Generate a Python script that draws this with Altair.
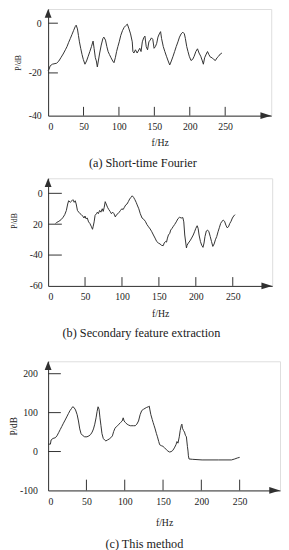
import altair as alt
import pandas as pd

# ---------------- data ----------------
A_f = [0, 1.4, 2.8, 6, 12, 15.2, 18.4, 21.2, 24.4, 26.7,
       29, 31.3, 33.6, 35.9, 38.2, 39.6, 41.4, 42.8, 44.2, 46,
       47.9, 49.7, 52, 54.3, 56.6, 58.9, 61.2, 63.5, 64.9, 66.7,
       68.1, 69.5, 70.9, 72.8, 75, 77.3, 78.7, 81, 82.9, 84.7,
       86.6, 88.8, 91.2, 93, 94.9, 96.7, 98.5, 100.4, 102.6, 105,
       107.3, 109.5, 111.9, 114.2, 116.4, 118.8, 119.7, 121.1, 123.3, 125.7,
       129.4, 131.2, 133, 134.9, 136.7, 138.5, 140.4, 142.3, 144.1, 145.9,
       147.8, 149.6, 151.5, 153.3, 155.1, 157, 158.8, 160.2, 162.6, 164.8,
       167.1, 169.5, 171.7, 174, 176.4, 178.6, 180.9, 183.3, 185.5, 187.8,
       190.2, 192.4, 193.8, 195.7, 197.5, 199.3, 201.7, 204, 206.2, 208.6,
       210.9, 213.1, 215.5, 217.8, 219.2, 221, 223.3, 225.1, 226.9, 229.3,
       231.6, 233.8, 236.2, 238.5, 240.7, 243.1, 245.4]
A_v = [-19, -18.5, -17.2, -16.5, -16.1, -15.2, -13.7, -12.4, -10.7, -9.4,
       -7.7, -6.2, -4.6, -3.0, -1.4, -0.8, -2.3, -4.9, -7.5, -10.1,
       -12.6, -14.6, -16.5, -15.2, -13.3, -11.4, -9.4, -7.2, -10.1, -13.9,
       -15.2, -17.6, -15.2, -12, -8.8, -6.2, -5.6, -6.8, -9.4, -11.4,
       -12.6, -13.9, -15.2, -15.9, -13.9, -11.4, -9.4, -7.5, -4.9, -3,
       -1.7, -1, -0.4, -2.3, -4.3, -7.5, -11.4, -12, -10.7, -12,
       -10.1, -11.4, -7.5, -5.9, -5.2, -9.4, -10.7, -7.5, -6.8, -5.9,
       -6.5, -10.1, -9.4, -8.1, -5.6, -4.3, -3.4, -6.2, -9.4, -11.4,
       -13.3, -15.2, -16.8, -15.2, -13.3, -11.4, -9.4, -7.5, -5.6, -4.3,
       -3.6, -4.3, -6.2, -9.4, -11.4, -13.3, -15, -14.6, -13.3, -11.4,
       -10.3, -12, -13.3, -15.2, -16.5, -13.9, -12.4, -11.4, -12.6, -13.7,
       -13.9, -14.6, -15, -13.9, -13.3, -12.4, -12]

B_f = [10, 11.5, 14.6, 17.7, 20.3, 22.5, 24.7, 26.5, 27.8, 30,
       32.2, 33.6, 35.3, 36.7, 38, 39.7, 41.5, 43.3, 45, 46.8,
       48.6, 49.9, 51.2, 53, 54.8, 56.5, 58.7, 60.1, 60.9, 62.3,
       63.6, 65.4, 66.7, 68, 69.8, 71.5, 73.3, 74.6, 76, 77.3,
       78.6, 80.4, 82.1, 83.9, 85.7, 87.4, 89.2, 91, 92.7, 94.5,
       96.3, 98, 99.8, 101.6, 103.3, 105.1, 106.9, 108.6, 110.4, 112.2,
       113.9, 115.7, 117.5, 119.2, 120.6, 122.8, 124.8, 127.2, 129.4, 131.6,
       133.8, 136, 138.2, 140.4, 142.6, 144.8, 147, 149.3, 151.5, 153.7,
       155.9, 157.2, 159, 160.3, 161.6, 162.9, 164.7, 166, 167.8, 169.1,
       171.3, 173.5, 175.8, 178, 180.2, 182.4, 183.7, 185, 186.4, 187.3,
       188.1, 189.9, 192.1, 194.3, 196.5, 198.3, 200, 201.8, 203.1, 204.4,
       206.2, 208, 209.7, 211.1, 212.4, 214.2, 215.9, 217.7, 219.5, 221.2,
       223, 224.8, 226.5, 228.3, 230.1, 231.8, 233.6, 235.4, 237.1, 238.9,
       240.7, 242.4, 244.2, 246, 247.7, 249.5, 251.3, 253]
B_v = [-19.5, -18.9, -18.1, -17, -15.5, -13.8, -11.1, -6.9, -4.8, -5.8,
       -4.8, -4.1, -5.8, -4.8, -6.9, -11.1, -12.2, -13.2, -13.8, -14.7,
       -16, -14.7, -16.4, -16, -18.5, -19.5, -21.7, -23.3, -21.7, -18.5,
       -14.3, -13.2, -12.2, -13.2, -11.1, -12.2, -10, -11.7, -9, -5.4,
       -6.9, -9, -10.5, -11.7, -13.2, -12.2, -13.2, -15.3, -13.8, -13.2,
       -12.2, -11.1, -10, -10.5, -9, -7.5, -6.9, -5.4, -3.7, -2.6,
       -1.6, -2.6, -4.1, -5.8, -7.5, -10, -13.2, -16, -16.8, -18.1,
       -20.2, -21.7, -23.1, -24.9, -27, -29, -31.2, -32.2, -32.8, -33.7,
       -33.9, -32.2, -31.2, -31.6, -29, -27, -25.9, -23.8, -22.7, -21.7,
       -20.2, -18.5, -16.4, -15.5, -16, -15.7, -18.5, -27, -32.2, -35.4,
       -33.7, -32.2, -30.8, -29, -27, -24.9, -22.7, -21, -22.7, -27,
       -31.2, -33.7, -35, -32.2, -28, -24.4, -23.8, -24.9, -28, -31.2,
       -34.4, -32.8, -30.1, -28, -24.9, -22.3, -19.5, -18.1, -17.4, -18.1,
       -20.6, -22.3, -21.7, -19.5, -18.1, -16, -14.7, -13.8]

C_f = [0, 3, 3.9, 6.4, 9.4, 11.5, 13.7, 15.8, 17.9, 20,
       22.2, 24.3, 26.4, 28.6, 30.7, 32, 33.7, 35.8, 37.9, 39.6,
       41.3, 43, 44.7, 47.7, 50.7, 53.3, 55.4, 57.5, 59.2, 60.9,
       62.6, 63.9, 65.2, 66.5, 67.7, 69, 70.3, 72, 73.7, 75.4,
       77.5, 79.7, 81.8, 83.9, 85.6, 87.3, 89, 90.7, 92.4, 94.5,
       96.7, 98, 99.2, 100.9, 103.1, 105.2, 107.3, 109.4, 111.6, 113.7,
       115.8, 118, 120.1, 122.2, 124.4, 126.5, 128.6, 130.8, 132, 132.9,
       134.1, 135.9, 137.1, 138.4, 139.7, 141.4, 142.7, 144.4, 145.6, 147.8,
       149.9, 152, 154.2, 156.3, 158.4, 160.5, 162.7, 164.8, 166.9, 168.2,
       169.5, 171.2, 172.4, 173.7, 174.6, 175.4, 176.7, 178, 179.2, 180.5,
       181.8, 182.6, 183.1, 183.9, 188.2, 201, 222.2, 239.3, 243.6, 247,
       250]
C_v = [19, 19, 29.7, 33.7, 35.4, 40.2, 48.4, 56.5, 64.6, 72.8,
       80.9, 89, 97.2, 105.3, 111, 115, 113.4, 106.9, 94.7, 78.5,
       58.1, 45.9, 41.9, 37.8, 37.8, 40.2, 43.5, 50, 58.1, 70.3,
       86.6, 102.8, 115, 108.5, 86.6, 66.3, 45.9, 33.7, 29.7, 27.2,
       29.7, 32.1, 35.4, 40.2, 51.6, 59.8, 63.8, 66.3, 70.3, 74.4,
       78.5, 86.6, 78.5, 74.4, 70.3, 67.9, 66.3, 66.3, 66.3, 66.3,
       70.3, 78.5, 94.7, 105.3, 108.5, 111, 113.4, 115, 116.7, 106.9,
       94.7, 82.5, 74.4, 66.3, 58.1, 45.9, 37.8, 25.6, 17.5, 15,
       13.4, 9.3, 5.3, 1.2, -1.2, -0.4, 2.8, 9.3, 17.5, 25.6,
       21.5, 37.8, 54.1, 66.3, 70.3, 59.8, 54.1, 50, 41.9, 37.8,
       13.4, 1.2, -11, -19.1, -20, -21.6, -21.6, -21.6, -19.1, -16.6,
       -15]

X_LABELS = [0, 50, 100, 150, 200, 250]
X_TICKS = [50, 100, 150, 200, 250]
A_YLABELS = [0, -20, -40]
A_YTICKS = [0, -20]
B_YLABELS = [0, -20, -40, -60]
B_YTICKS = [0, -20, -40]
C_YLABELS = [200, 100, 0, -100]
C_YTICKS = [200, 100, 0]

CAPTIONS = ["(a) Short-time Fourier", "(b) Secondary feature extraction", "(c) This method"]

# ---------------- style ----------------
FONT = "Liberation Serif"
INK = "#303030"
TXT = "#1a1a1a"
UP = "M0,0L-0.35,0.9L0.35,0.9Z"
RIGHT = "M0,0L-1.1,-0.35L-1.1,0.35Z"


def panel(f, v, W, H, xdom, yscale, ylabels, yticks, caption,
          ylen, xlen, ylabpad, ytitle_size, ytitle_pad, xlabpad, xtitle_pad, cap_offset,
          label_expr="toString(datum.value)", ytitle_y=None, subtitle=None):
    xscale = alt.Scale(domain=xdom, nice=False, zero=False)
    x_enc = alt.X("f:Q", scale=xscale,
                  axis=alt.Axis(values=X_LABELS, ticks=False, grid=False, domainColor=INK,
                                labelFont=FONT, labelFontSize=10, labelColor=TXT,
                                labelPadding=xlabpad,
                                labelExpr="toString(datum.value)",
                                title="f/Hz", titleFont=FONT, titleFontSize=10,
                                titleFontWeight="normal", titleColor=TXT, titlePadding=xtitle_pad))
    yax = dict(values=ylabels, ticks=False, grid=False, domainColor=INK,
               labelFont=FONT, labelFontSize=10, labelColor=TXT, labelPadding=ylabpad,
               labelExpr=label_expr,
               title="P/dB", titleFont=FONT, titleFontSize=ytitle_size,
               titleFontWeight="normal", titleColor=TXT, titlePadding=ytitle_pad)
    if ytitle_y is not None:
        yax["titleY"] = ytitle_y
    y_enc = alt.Y("v:Q", scale=yscale, axis=alt.Axis(**yax))

    line = alt.Chart(pd.DataFrame({"f": f, "v": v})).mark_line(
        color=INK, strokeWidth=1).encode(x=x_enc, y=y_enc)
    xt = alt.Chart(pd.DataFrame({"f": X_TICKS})).mark_rule(color=INK, strokeWidth=1).encode(
        x=x_enc, y=alt.value(H), y2=alt.value(H - xlen))
    yt = alt.Chart(pd.DataFrame({"v": yticks})).mark_rule(color=INK, strokeWidth=1).encode(
        y=y_enc, x=alt.value(0), x2=alt.value(ylen))
    one = pd.DataFrame({"k": [0]})
    up = alt.Chart(one).mark_point(shape=UP, filled=True, size=400, color=INK,
                                   opacity=1, strokeWidth=0).encode(
        x=alt.value(0), y=alt.value(0))
    right = alt.Chart(one).mark_point(shape=RIGHT, filled=True, size=400, color=INK,
                                      opacity=1, strokeWidth=0).encode(
        x=alt.value(W), y=alt.value(H))
    tkw = dict(orient="bottom", anchor="middle", frame="bounds", font=FONT, fontSize=12.5,
               fontWeight="normal", color=TXT, offset=cap_offset)
    if subtitle is not None:
        tkw.update(subtitle=subtitle[0], subtitleFontSize=subtitle[1], subtitlePadding=0)
    return alt.layer(line, xt, yt, up, right).properties(
        width=W, height=H, title=alt.TitleParams(caption, **tkw))


pa = panel(A_f, A_v, 228, 109, [0, 315],
           alt.Scale(domain=[-40, -20, 0, 6], range=[109, 65.3, 14.5, 0], nice=False, zero=False),
           A_YLABELS, A_YTICKS, CAPTIONS[0],
           ylen=10, xlen=9, ylabpad=7, ytitle_size=8, ytitle_pad=6,
           xlabpad=6, xtitle_pad=7, cap_offset=9)

pb = panel(B_f, B_v, 229, 110, [0, 303.4],
           alt.Scale(domain=[-60, 9.75], nice=False, zero=False),
           B_YLABELS, B_YTICKS, CAPTIONS[1],
           ylen=14, xlen=9, ylabpad=6, ytitle_size=8, ytitle_pad=11,
           xlabpad=6, xtitle_pad=7, cap_offset=9,
           label_expr="datum.value == -20 ? '20' : toString(datum.value)",
           ytitle_y=43, subtitle=(" ", 13))

pc = panel(C_f, C_v, 237, 132, [0, 302.7],
           alt.Scale(domain=[-100, 232], nice=False, zero=False),
           C_YLABELS, C_YTICKS, CAPTIONS[2],
           ylen=13, xlen=11, ylabpad=11, ytitle_size=9.5, ytitle_pad=1,
           xlabpad=6, xtitle_pad=12, cap_offset=11)

chart = alt.vconcat(pa, pb, pc, spacing=8).properties(
    padding={"top": -6, "left": 0, "right": 0, "bottom": 0}
).configure_view(stroke=None).configure(font=FONT)

chart.save("out.html", embed_options={"renderer": "svg", "actions": False})
